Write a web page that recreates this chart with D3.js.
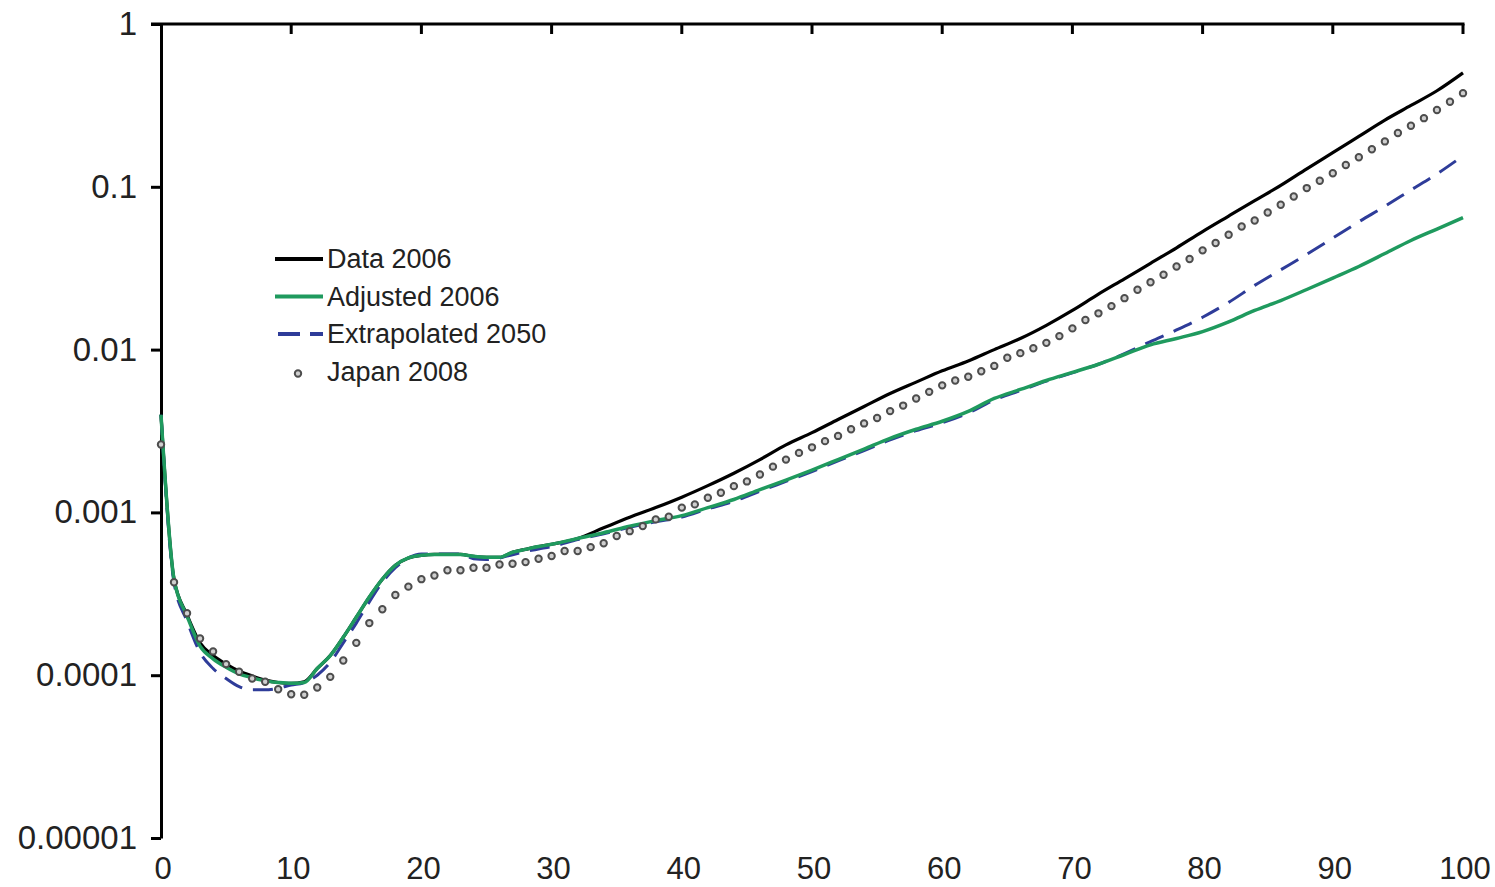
<!DOCTYPE html>
<html>
<head>
<meta charset="utf-8">
<script src="https://cdn.jsdelivr.net/npm/d3@7"></script>
<style>
  html, body { margin: 0; padding: 0; background: #fff; }
  svg { display: block; font-family: "Liberation Sans", Arial, sans-serif; }
</style>
</head>
<body>
<script>
// ages for the three line series (yearly to 30, then every 2 years)
const lineAges = [
  0, 1, 2, 3, 4, 5, 6, 7, 8, 9, 10, 11, 12, 13, 14, 15, 16, 17, 18, 19, 20,
  21, 22, 23, 24, 25, 26, 27, 28, 29, 30,
  32, 34, 36, 38, 40, 42, 44, 46, 48, 50, 52, 54, 56, 58, 60, 62, 64, 66,
  68, 70, 72, 74, 76, 78, 80, 82, 84, 86, 88, 90, 92, 94, 96, 98, 100
];

const data2006 = [
  0.00398, 0.000389, 0.000235, 0.000158, 0.000132, 0.000117, 0.000106, 0.0000989,
  0.0000933, 0.0000902, 0.0000891, 0.0000912, 0.000110, 0.000132, 0.000171,
  0.000227, 0.000302, 0.000389, 0.000473, 0.000525, 0.000545,
  0.000552, 0.000552, 0.000552, 0.000537, 0.00053, 0.00053, 0.000569, 0.000593,
  0.000617, 0.000637,
  0.000692, 0.000804, 0.000933, 0.00107, 0.00124, 0.00146, 0.00174, 0.00211,
  0.00260, 0.00309, 0.00372, 0.00447, 0.00537, 0.00631, 0.00741, 0.00851,
  0.0100, 0.0117, 0.0141, 0.0174, 0.0219, 0.0272, 0.0339, 0.0422, 0.0531,
  0.0661, 0.0822, 0.102, 0.129, 0.162, 0.204, 0.257, 0.316, 0.389, 0.501
];

const adjusted2006 = [
  0.00398, 0.000389, 0.000231, 0.000151, 0.000126, 0.000112, 0.000102, 0.0000966,
  0.0000923, 0.0000902, 0.0000891, 0.0000902, 0.000110, 0.000132, 0.000171,
  0.000227, 0.000302, 0.000389, 0.000473, 0.000525, 0.000545,
  0.000552, 0.000552, 0.000552, 0.000537, 0.00053, 0.00053, 0.000569, 0.000593,
  0.000617, 0.000637,
  0.000692, 0.000750, 0.000822, 0.000890, 0.000955, 0.00107, 0.00120, 0.00138,
  0.00158, 0.00182, 0.00211, 0.00245, 0.00285, 0.00324, 0.00363, 0.00417,
  0.00501, 0.00569, 0.00646, 0.00724, 0.00813, 0.00933, 0.0107, 0.0117, 0.0129,
  0.0148, 0.0174, 0.0200, 0.0234, 0.0275, 0.0324, 0.0389, 0.0468, 0.0550, 0.0646
];

const extrapolated2050 = [
  0.00398, 0.00037, 0.000215, 0.000138, 0.00011, 0.0000955, 0.0000851, 0.0000813,
  0.0000813, 0.0000832, 0.0000871, 0.00009, 0.0001, 0.00012, 0.000158,
  0.000209, 0.000282, 0.000372, 0.000457, 0.000525, 0.000556,
  0.000556, 0.000556, 0.000556, 0.000519, 0.000513, 0.000525, 0.00055, 0.000575,
  0.000596, 0.000617,
  0.000680, 0.000740, 0.000810, 0.000875, 0.000935, 0.00105, 0.00117, 0.00135,
  0.00155, 0.00178, 0.00207, 0.00240, 0.00279, 0.00318, 0.00355, 0.00408,
  0.00490, 0.00560, 0.00640, 0.00720, 0.00813, 0.00944, 0.0112, 0.0132, 0.0158,
  0.0195, 0.0248, 0.0309, 0.0385, 0.0484, 0.0610, 0.0759, 0.0955, 0.120, 0.155
];

// Japan 2008, one marker per year of age 0..100
const japanAges = d3.range(0, 101);
const japan2008 = [
  0.00261, 0.000372, 0.000240, 0.000168, 0.000140, 0.000117, 0.000105, 0.0000955,
  0.0000912, 0.0000820, 0.0000764, 0.0000759, 0.0000841, 0.0000977, 0.000123,
  0.000158, 0.000209, 0.000254, 0.000311, 0.000350, 0.000389, 0.000410, 0.000441,
  0.000441, 0.000457, 0.000457, 0.000479, 0.000484, 0.000495, 0.000519, 0.000540,
  0.000579, 0.000579, 0.000612, 0.000646, 0.000716, 0.000767, 0.000824, 0.000906,
  0.000940, 0.00107, 0.00112, 0.00123, 0.00132, 0.00145, 0.00155, 0.00171,
  0.00191, 0.00211, 0.00232, 0.00251, 0.00274, 0.00295, 0.00324, 0.00352,
  0.00380, 0.00419, 0.00453, 0.00501, 0.00550, 0.00603, 0.00646, 0.00681,
  0.00736, 0.00794, 0.00891, 0.00951, 0.0102, 0.0110, 0.0121, 0.0135, 0.0152,
  0.0167, 0.0185, 0.0207, 0.0233, 0.0259, 0.0288, 0.0324, 0.0360, 0.0407,
  0.0452, 0.0508, 0.0570, 0.0621, 0.0695, 0.0776, 0.0871, 0.0982, 0.109,
  0.121, 0.136, 0.152, 0.170, 0.190, 0.214, 0.237, 0.264, 0.296, 0.333, 0.376
];

const xTicks = [0, 10, 20, 30, 40, 50, 60, 70, 80, 90, 100];
const yTicks = [0.00001, 0.0001, 0.001, 0.01, 0.1, 1];
const yTickLabels = ["0.00001", "0.0001", "0.001", "0.01", "0.1", "1"];

const legendNames = ["Data 2006", "Adjusted 2006", "Extrapolated 2050", "Japan 2008"];

const width = 1495, height = 887;
const colors = {
  data: "#000000",
  adjusted: "#1f9a5e",
  extrap: "#2e3c99",
  japanStroke: "#4d4d4d",
  japanFill: "#cfcfcf",
  text: "#222222"
};

const svg = d3.select("body").append("svg")
  .attr("width", width)
  .attr("height", height);

const x = d3.scaleLinear().domain([0, 100]).range([161, 1463]);
const y = d3.scaleLog().domain([0.00001, 1]).range([838, 24]);

// top axis line with ticks pointing down
svg.append("line")
  .attr("x1", 151).attr("x2", x(100) + 1.5)
  .attr("y1", y(1)).attr("y2", y(1))
  .attr("stroke", "#000").attr("stroke-width", 3);

svg.append("g")
  .selectAll("line")
  .data(xTicks.slice(1))
  .enter()
  .append("line")
  .attr("x1", d => x(d)).attr("x2", d => x(d))
  .attr("y1", y(1)).attr("y2", y(1) + 10)
  .attr("stroke", "#000").attr("stroke-width", 3);

// x labels at the bottom
svg.append("g")
  .selectAll("text")
  .data(xTicks)
  .enter()
  .append("text")
  .attr("x", d => x(d) + 2)
  .attr("y", 879)
  .attr("text-anchor", "middle")
  .attr("fill", colors.text)
  .style("font-size", "31px")
  .text(d => d);

// y axis
const yAxis = d3.axisLeft(y)
  .tickValues(yTicks)
  .tickFormat((d, i) => yTickLabels[i])
  .tickSize(10)
  .tickSizeOuter(0)
  .tickPadding(14);

const yg = svg.append("g")
  .attr("transform", `translate(${x(0)},0)`)
  .call(yAxis);
yg.select(".domain").attr("stroke", "#000").attr("stroke-width", 3);
yg.selectAll(".tick line").attr("stroke", "#000").attr("stroke-width", 3);
yg.selectAll(".tick text")
  .attr("fill", colors.text)
  .style("font-size", "33px")
  .style("font-family", "'Liberation Sans', Arial, sans-serif");

// lines
const line = d3.line()
  .x(d => x(d[0]))
  .y(d => y(d[1]))
  .curve(d3.curveMonotoneX);

const series = [
  { values: data2006, color: colors.data, width: 3.2, dash: null },
  { values: extrapolated2050, color: colors.extrap, width: 3, dash: "20,11" },
  { values: adjusted2006, color: colors.adjusted, width: 3.5, dash: null }
];

svg.append("g")
  .selectAll("path")
  .data(series)
  .enter()
  .append("path")
  .attr("d", s => line(lineAges.map((a, i) => [a, s.values[i]])))
  .attr("fill", "none")
  .attr("stroke", s => s.color)
  .attr("stroke-width", s => s.width)
  .attr("stroke-dasharray", s => s.dash);

// Japan markers
svg.append("g")
  .selectAll("circle")
  .data(japanAges.map((a, i) => [a, japan2008[i]]))
  .enter()
  .append("circle")
  .attr("cx", d => x(d[0]))
  .attr("cy", d => y(d[1]))
  .attr("r", 3.2)
  .attr("fill", colors.japanFill)
  .attr("stroke", colors.japanStroke)
  .attr("stroke-width", 2);

// legend
const legend = svg.append("g").attr("transform", "translate(275,259)");
const legendRows = legend.selectAll("g")
  .data(legendNames)
  .enter()
  .append("g")
  .attr("transform", (d, i) => `translate(0,${i * 37.5})`);

legendRows.filter((d, i) => i < 3)
  .append("line")
  .attr("x1", 0).attr("x2", 48)
  .attr("y1", 0).attr("y2", 0)
  .attr("stroke", (d, i) => [colors.data, colors.adjusted, colors.extrap][i])
  .attr("stroke-width", 4)
  .attr("stroke-dasharray", (d, i) => i === 2 ? "22,10" : null)
  .attr("stroke-dashoffset", (d, i) => i === 2 ? -3 : null);

legendRows.filter((d, i) => i === 3)
  .append("circle")
  .attr("cx", 23).attr("cy", 2)
  .attr("r", 3.2)
  .attr("fill", colors.japanFill)
  .attr("stroke", colors.japanStroke)
  .attr("stroke-width", 2);

legendRows.append("text")
  .attr("x", 52)
  .attr("y", 9)
  .attr("fill", colors.text)
  .style("font-size", "27px")
  .text(d => d);
</script>
</body>
</html>
